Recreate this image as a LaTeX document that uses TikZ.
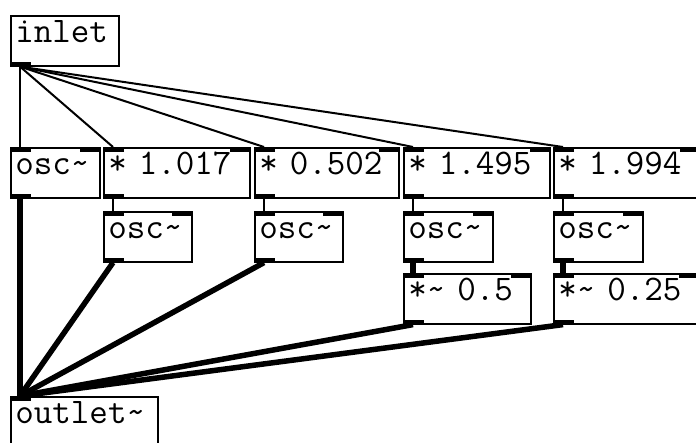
\documentclass[tikz,border=0pt]{standalone}
\usepackage{fontspec}
\begin{document}
\begin{tikzpicture}[x=1pt,y=-1pt,
  obj/.style={draw, line width=1.6pt, anchor=north west, inner xsep=4.5pt, inner ysep=0pt,
    text height=27pt, text depth=23pt, align=left, font=\fontsize{36}{36}\selectfont\ttfamily},
  ctl/.style={line width=2pt},
  sig/.style={line width=5.5pt},
  nub/.style={fill=black}]
\useasboundingbox (0,0) rectangle (696,442);
\clip (0,0) rectangle (696,442);
% objects
\node[obj, text width=99pt] (inlet) at (10,15) {inlet};
\node[obj, text width=80pt] (osc0) at (10,147) {osc\char`~};
\node[obj, text width=137pt] (m1) at (103,147) {* 1.017};
\node[obj, text width=135pt] (m2) at (254,147) {* 0.502};
\node[obj, text width=137pt] (m3) at (403,147) {* 1.495};
\node[obj, text width=137pt] (m4) at (553,147) {* 1.994};
\node[obj, text width=79pt] (osc1) at (103,211) {osc\char`~};
\node[obj, text width=79pt] (osc2) at (254,211) {osc\char`~};
\node[obj, text width=80pt] (osc3) at (403,211) {osc\char`~};
\node[obj, text width=80pt] (osc4) at (553,211) {osc\char`~};
\node[obj, text width=118pt] (v3) at (403,273) {*\char`~{} 0.5};
\node[obj, text width=136pt] (v4) at (553,273) {*\char`~{} 0.25};
\node[obj, text width=138pt] (out) at (10,396) {outlet\char`~};
% inlets and outlets
\foreach \n in {osc0,m1,m2,m3,m4,osc1,osc2,osc3,osc4,v3,v4}{
  \fill[nub] (\n.north west) rectangle ++(21,5);
  \fill[nub] (\n.north east) rectangle ++(-21,5);
}
\foreach \n in {inlet,osc0,m1,m2,m3,m4,osc1,osc2,osc3,osc4,v3,v4}{
  \fill[nub] (\n.south west) rectangle ++(21,-5);
}
\fill[nub] (out.north west) rectangle ++(21,5);
% control connections
\foreach \n in {osc0,m1,m2,m3,m4}{
  \draw[ctl] ([xshift=10pt]inlet.south west) -- ([xshift=10pt]\n.north west);
}
\draw[ctl] ([xshift=10pt]m1.south west) -- ([xshift=10pt]osc1.north west);
\draw[ctl] ([xshift=10pt]m2.south west) -- ([xshift=10pt]osc2.north west);
\draw[ctl] ([xshift=10pt]m3.south west) -- ([xshift=10pt]osc3.north west);
\draw[ctl] ([xshift=10pt]m4.south west) -- ([xshift=10pt]osc4.north west);
% signal connections
\draw[sig] ([xshift=10pt]osc3.south west) -- ([xshift=10pt]v3.north west);
\draw[sig] ([xshift=10pt]osc4.south west) -- ([xshift=10pt]v4.north west);
\foreach \n in {osc0,osc1,osc2,v3,v4}{
  \draw[sig] ([xshift=10pt]\n.south west) -- ([xshift=10pt]out.north west);
}
\end{tikzpicture}
\end{document}
